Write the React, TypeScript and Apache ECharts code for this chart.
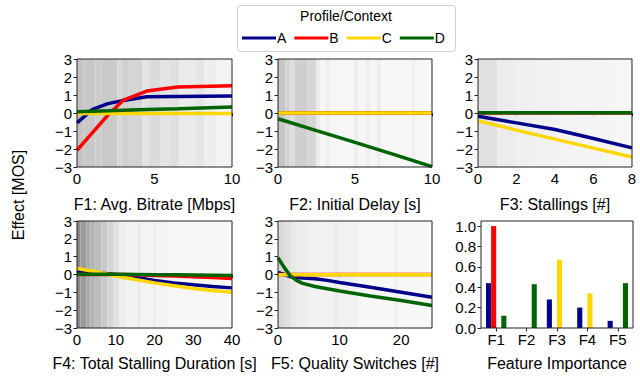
import React, { useEffect, useRef } from "react";
import * as echarts from "echarts";

// ---------- data ----------
const profiles = ["A", "B", "C", "D"];
const profileColors = ["#00008b", "#ff0000", "#ffd700", "#006400"];

// F1: Avg. Bitrate [Mbps]
const f1X = [0, 1, 2, 3, 4.5, 6.5, 10];
const f1A = [-0.55, 0.2, 0.52, 0.7, 0.9, 0.92, 0.94];
const f1B = [-2.07, -1.09, -0.11, 0.72, 1.22, 1.45, 1.51];
const f1C = [-0.03, -0.03, -0.03, -0.03, -0.03, -0.03, -0.03];
const f1D = [0.07, 0.1, 0.12, 0.15, 0.19, 0.24, 0.33];

// F2: Initial Delay [s]
const f2X = [0, 2.5, 5, 7.5, 10];
const f2A = [0, 0, 0, 0, 0];
const f2B = [0, 0, 0, 0, 0];
const f2C = [0, 0, 0, 0, 0];
const f2D = [-0.32, -0.98, -1.63, -2.3, -2.98];

// F3: Stallings [#]
const f3X = [0, 2, 4, 6, 8];
const f3A = [-0.18, -0.55, -0.92, -1.42, -1.94];
const f3B = [0, 0, 0, 0, 0];
const f3C = [-0.44, -0.95, -1.45, -1.95, -2.44];
const f3D = [0.02, 0.02, 0.02, 0.02, 0.02];

// F4: Total Stalling Duration [s]
const f4X = [0, 5, 10, 15, 20, 25, 30, 35, 40];
const f4A = [0.19, 0.1, 0.0, -0.15, -0.33, -0.47, -0.58, -0.67, -0.75];
const f4B = [0, 0, 0, -0.02, -0.05, -0.08, -0.12, -0.17, -0.22];
const f4C = [0.34, 0.15, -0.08, -0.28, -0.47, -0.63, -0.78, -0.9, -1.0];
const f4D = [0.02, 0.02, 0.01, 0.0, -0.01, -0.02, -0.03, -0.04, -0.05];

// F5: Quality Switches [#]
const f5X = [0, 1, 2, 3, 4, 6, 8, 10, 15, 20, 25];
const f5A = [0.12, 0.0, -0.12, -0.17, -0.2, -0.24, -0.33, -0.45, -0.72, -1.0, -1.28];
const f5B = [0, 0, 0, 0, 0, 0, 0, 0, 0, 0, 0];
const f5C = [-0.02, -0.02, -0.02, -0.02, -0.02, -0.02, -0.02, -0.02, -0.02, -0.02, -0.02];
const f5D = [0.94, 0.4, -0.08, -0.33, -0.5, -0.67, -0.8, -0.93, -1.2, -1.46, -1.74];

// density of observed feature values: [from, to, gray]
const f1Bands: [number, number, string][] = [
  [0, 0.4, "#c3c3c3"], [0.4, 1.2, "#c8c8c8"], [1.2, 1.6, "#cdcdcd"], [1.6, 2.6, "#c9c9c9"],
  [2.6, 2.9, "#d8d8d8"], [2.9, 3.3, "#d0d0d0"], [3.3, 4.2, "#d4d4d4"], [4.2, 4.6, "#e3e3e3"],
  [4.6, 5.4, "#dbdbdb"], [5.4, 6.0, "#e4e4e4"], [6.0, 6.6, "#dfdfdf"], [6.6, 7.6, "#eaeaea"],
  [7.6, 8.2, "#e5e5e5"], [8.2, 9.0, "#eeeeee"], [9.0, 10, "#f3f3f3"],
];
const f2Bands: [number, number, string][] = [
  [0, 0.48, "#c6c6c6"], [0.48, 0.8, "#d4d4d4"], [0.8, 1.1, "#dcdcdc"], [1.1, 1.9, "#cfcfcf"],
  [1.9, 2.5, "#d6d6d6"], [2.5, 2.75, "#ececec"], [2.75, 3.1, "#f6f6f6"], [3.1, 3.4, "#eeeeee"],
  [3.4, 4.9, "#f6f6f6"], [4.9, 5.2, "#eeeeee"], [5.2, 5.7, "#f6f6f6"], [5.7, 6.0, "#eeeeee"],
  [6.0, 6.4, "#f6f6f6"], [6.4, 6.7, "#ededed"], [6.7, 8.7, "#f6f6f6"], [8.7, 8.9, "#efefef"],
  [8.9, 10, "#f7f7f7"],
];
const f3Bands: [number, number, string][] = [
  [0, 1, "#e0e0e0"], [1, 2, "#ececec"], [2, 3, "#efefef"], [3, 4, "#f1f1f1"],
  [4, 5, "#f3f3f3"], [5, 6, "#f4f4f4"], [6, 7, "#f5f5f5"], [7, 8, "#f6f6f6"],
];
const f4Bands: [number, number, string][] = [
  [0, 0.9, "#8a8a8a"], [0.9, 2.4, "#9a9a9a"], [2.4, 3.5, "#aaaaaa"], [3.5, 4.6, "#b3b3b3"],
  [4.6, 6.3, "#bdbdbd"], [6.3, 7.8, "#c9c9c9"], [7.8, 9.3, "#d5d5d5"], [9.3, 11, "#e2e2e2"],
  [11, 13, "#eeeeee"], [13, 15.5, "#f2f2f2"], [15.5, 16.5, "#ebebeb"], [16.5, 19.5, "#f3f3f3"],
  [19.5, 20.5, "#ececec"], [20.5, 23.5, "#f3f3f3"], [23.5, 40, "#f7f7f7"],
];
const f5Bands: [number, number, string][] = [
  [0, 1.1, "#d8d8d8"], [1.1, 2.2, "#e0e0e0"], [2.2, 3.1, "#e8e8e8"], [3.1, 5, "#eeeeee"],
  [5, 9, "#f2f2f2"], [9, 10, "#ececec"], [10, 13, "#f1f1f1"], [13, 19, "#f7f7f7"],
  [19, 19.5, "#f0f0f0"], [19.5, 25, "#f7f7f7"],
];

// Feature importance
const featureNames = ["F1", "F2", "F3", "F4", "F5"];
const importanceA = [0.44, 0.0, 0.28, 0.2, 0.07];
const importanceB = [1.0, 0.0, 0.0, 0.0, 0.0];
const importanceC = [0.0, 0.0, 0.67, 0.34, 0.0];
const importanceD = [0.12, 0.43, 0.0, 0.0, 0.44];

const effectTicks = [-3, -2, -1, 0, 1, 2, 3];
const importanceTicks = [0, 0.2, 0.4, 0.6, 0.8, 1.0];

// ---------- layout ----------
const FONT = "Liberation Sans";
const TXT = "#000";
const FRAME = "#222";

const panels = [
  { name: "F1: Avg. Bitrate [Mbps]", x: f1X, ys: [f1A, f1B, f1C, f1D], max: 10, ticks: [0, 5, 10], bands: f1Bands, grid: { left: 77, top: 59, width: 155, height: 108 } },
  { name: "F2: Initial Delay [s]", x: f2X, ys: [f2A, f2B, f2C, f2D], max: 10, ticks: [0, 5, 10], bands: f2Bands, grid: { left: 278, top: 59, width: 154, height: 108 } },
  { name: "F3: Stallings [#]", x: f3X, ys: [f3A, f3B, f3C, f3D], max: 8, ticks: [0, 2, 4, 6, 8], bands: f3Bands, grid: { left: 478, top: 59, width: 154, height: 108 } },
  { name: "F4: Total Stalling Duration [s]", x: f4X, ys: [f4A, f4B, f4C, f4D], max: 40, ticks: [0, 10, 20, 30, 40], bands: f4Bands, grid: { left: 77, top: 221, width: 155, height: 107 } },
  { name: "F5: Quality Switches [#]", x: f5X, ys: [f5A, f5B, f5C, f5D], max: 25, ticks: [0, 10, 20], bands: f5Bands, grid: { left: 278, top: 221, width: 154, height: 107 } },
];
const barGrid = { left: 481, top: 221, width: 152, height: 107 };

const fmtMinus = (v: number) => (v < 0 ? "\u2212" + Math.abs(v) : String(v));

function buildOption() {
  const grids: any[] = [];
  const xAxes: any[] = [];
  const yAxes: any[] = [];
  const series: any[] = [];

  const tickStyle = { show: true, inside: false, length: 3.5, lineStyle: { color: FRAME, width: 1 } };
  const labelStyle = { color: TXT, fontSize: 15, fontFamily: FONT };
  const nameStyle = { color: TXT, fontSize: 16, fontFamily: FONT };

  panels.forEach((p, i) => {
    grids.push({ ...p.grid, show: true, backgroundColor: "transparent", borderColor: FRAME, borderWidth: 1, z: 10 });
    xAxes.push({
      type: "value", gridIndex: i, min: 0, max: p.max,
      name: p.name, nameLocation: "middle", nameGap: i < 3 ? 29 : 27,
      nameTextStyle: nameStyle,
      axisLine: { show: false }, splitLine: { show: false },
      axisTick: { ...tickStyle, customValues: p.ticks },
      axisLabel: { ...labelStyle, margin: 4, customValues: p.ticks, formatter: fmtMinus },
    });
    yAxes.push({
      type: "value", gridIndex: i, min: -3, max: 3, interval: 1,
      axisLine: { show: false }, splitLine: { show: false },
      axisTick: { ...tickStyle, customValues: effectTicks },
      axisLabel: { ...labelStyle, margin: 5, customValues: effectTicks, formatter: fmtMinus },
    });
    series.push({
      type: "line", xAxisIndex: i, yAxisIndex: i, data: [], silent: true, z: 1,
      markArea: {
        silent: true,
        data: p.bands.map(([a, b, c]) => [{ xAxis: a, itemStyle: { color: c, borderWidth: 0 } }, { xAxis: b }]),
      },
    });
    p.ys.forEach((ys, k) => {
      series.push({
        name: profiles[k], type: "line", xAxisIndex: i, yAxisIndex: i, z: 3,
        data: p.x.map((x, j) => [x, ys[j]]),
        showSymbol: false, symbol: "none",
        lineStyle: { width: 3.5, color: profileColors[k] },
        itemStyle: { color: profileColors[k] },
      });
    });
  });

  grids.push({ ...barGrid, show: true, backgroundColor: "transparent", borderColor: FRAME, borderWidth: 1, z: 10 });
  xAxes.push({
    type: "category", gridIndex: 5, data: featureNames,
    name: "Feature Importance", nameLocation: "middle", nameGap: 27,
    nameTextStyle: nameStyle,
    axisLine: { show: false },
    axisTick: { ...tickStyle, alignWithLabel: true },
    axisLabel: { ...labelStyle, margin: 4 },
  });
  yAxes.push({
    type: "value", gridIndex: 5, min: 0, max: 1.05,
    axisLine: { show: false }, splitLine: { show: false },
    axisTick: { ...tickStyle, customValues: importanceTicks },
    axisLabel: { ...labelStyle, margin: 5, customValues: importanceTicks, formatter: (v: number) => v.toFixed(1) },
  });
  [importanceA, importanceB, importanceC, importanceD].forEach((vals, k) => {
    series.push({
      name: profiles[k], type: "bar", xAxisIndex: 5, yAxisIndex: 5, data: vals, z: 3,
      barGap: "0%", barCategoryGap: "33%",
      itemStyle: { color: profileColors[k] },
    });
  });

  return {
    animation: false,
    textStyle: { fontFamily: FONT },
    grid: grids,
    xAxis: xAxes,
    yAxis: yAxes,
    series,
    legend: {
      data: profiles, left: 242, top: 31, padding: 0, itemGap: 8,
      icon: "rect", itemWidth: 34, itemHeight: 3,
      textStyle: { color: TXT, fontSize: 14, fontFamily: FONT, padding: [0, 0, 0, -4] },
      selectedMode: false,
    },
    graphic: [
      { type: "rect", z: 1, shape: { x: 237.5, y: 5.5, width: 218, height: 46, r: 3 }, style: { fill: "#fff", stroke: "#d0d0d0", lineWidth: 1 } },
      { type: "text", z: 5, x: 346, y: 16, style: { text: "Profile/Context", fill: TXT, font: `14px "${FONT}"`, textAlign: "center", textVerticalAlign: "middle" } },
      { type: "text", z: 5, x: 18, y: 195, rotation: Math.PI / 2, style: { text: "Effect [MOS]", fill: TXT, font: `16px "${FONT}"`, textAlign: "center", textVerticalAlign: "middle" } },
    ],
  };
}

export default function App() {
  const ref = useRef<HTMLDivElement>(null);
  useEffect(() => {
    if (!ref.current) return;
    const chart = echarts.init(ref.current, undefined, { renderer: "svg" });
    chart.setOption(buildOption() as any);
    return () => chart.dispose();
  }, []);
  return <div ref={ref} style={{ position: "absolute", left: 0, top: 0, width: 640, height: 376, background: "#fff" }} />;
}
